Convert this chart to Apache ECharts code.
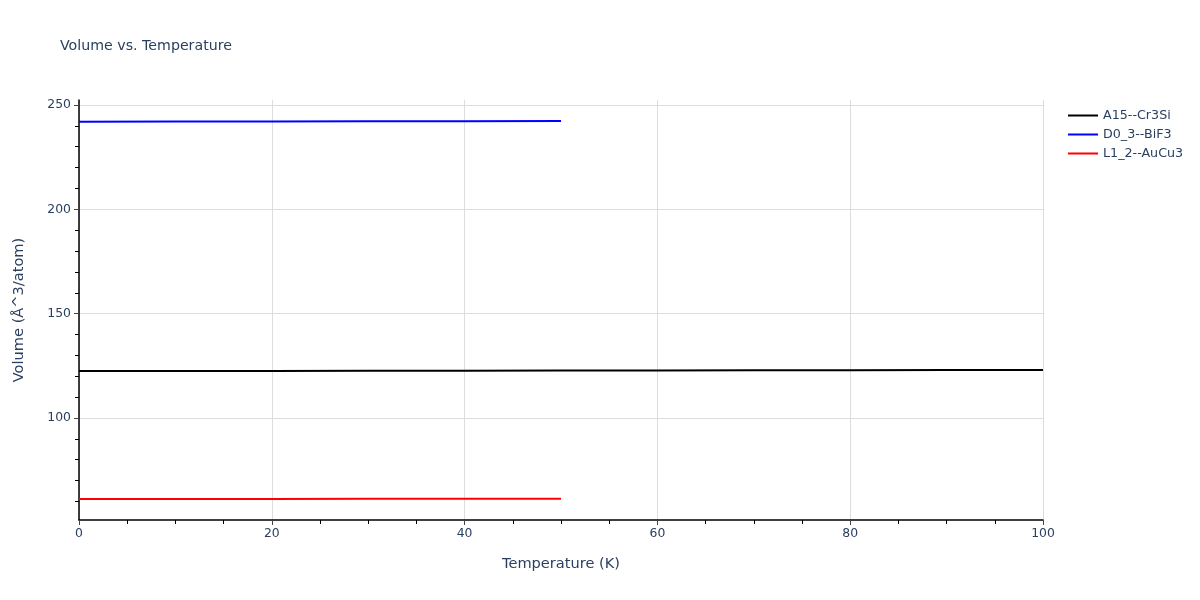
<!DOCTYPE html>
<html><head><meta charset="utf-8">
<script src="https://cdn.jsdelivr.net/npm/echarts@6/dist/echarts.min.js"></script>
<style>html,body{margin:0;padding:0;background:#fff}#c{width:1200px;height:600px}</style>
</head><body><div id="c"></div>
<script>
const seriesNames = ['A15--Cr3Si', 'D0_3--BiF3', 'L1_2--AuCu3'];
const colors = ['#000000', '#0000ff', '#ff0000'];
const tempA15 = [0, 10, 20, 30, 40, 50, 60, 70, 80, 90, 100];
const volA15 = [122.5, 122.52, 122.56, 122.6, 122.65, 122.7, 122.76, 122.82, 122.88, 122.94, 123.0];
const tempD03 = [0, 10, 20, 30, 40, 50];
const volD03 = [242.0, 242.05, 242.1, 242.17, 242.24, 242.3];
const tempL12 = [0, 10, 20, 30, 40, 50];
const volL12 = [61.2, 61.21, 61.22, 61.24, 61.26, 61.28];
const yTicks = [100, 150, 200, 250];
const yMinorTicks = [60, 70, 80, 90, 110, 120, 130, 140, 160, 170, 180, 190, 210, 220, 230, 240];

const font = '"DejaVu Sans", Verdana, sans-serif';
const txt = '#2a3f5f';
const pairs = (xs, ys) => xs.map((x, i) => [x, ys[i]]);
const chart = echarts.init(document.getElementById('c'));
chart.setOption({
  animation: false,
  title: { text: 'Volume vs. Temperature', left: 55, top: 34,
    textStyle: { fontFamily: font, fontSize: 14.2, fontWeight: 'normal', color: txt } },
  legend: { orient: 'vertical', left: 1063, top: 104, itemWidth: 30, itemHeight: 2, itemGap: 6,
    icon: 'rect', textStyle: { fontFamily: font, fontSize: 12.7, color: txt },
    data: seriesNames },
  grid: { left: 79, right: 157, top: 100, bottom: 80, containLabel: false },
  xAxis: {
    type: 'value', min: 0, max: 100, interval: 20,
    name: 'Temperature (K)', nameLocation: 'middle', nameGap: 37,
    nameTextStyle: { fontFamily: font, fontSize: 14.6, color: txt },
    axisLine: { show: true, onZero: false, lineStyle: { color: '#000', width: 1.5 } },
    axisTick: { show: true, length: 5, lineStyle: { color: '#444' } },
    minorTick: { show: true, splitNumber: 4, length: 4, lineStyle: { color: '#000' } },
    axisLabel: { fontFamily: font, fontSize: 12.4, color: txt, margin: 8 },
    splitLine: { show: true, lineStyle: { color: '#dddddd' } }
  },
  yAxis: [{
    type: 'value', min: 51.1, max: 252.4,
    name: 'Volume (Å^3/atom)', nameLocation: 'middle', nameGap: 52,
    nameTextStyle: { fontFamily: font, fontSize: 14.6, color: txt },
    axisLine: { show: true, onZero: false, lineStyle: { color: '#000', width: 1.5 } },
    axisTick: { show: true, length: 5, customValues: yTicks, lineStyle: { color: '#444' } },
    axisLabel: { fontFamily: font, fontSize: 12.4, color: txt, margin: 8, customValues: yTicks },
    splitLine: { show: true, lineStyle: { color: '#dddddd' } }
  }, {
    type: 'value', min: 51.1, max: 252.4, position: 'left',
    axisLine: { show: false },
    axisTick: { show: true, length: 4, customValues: yMinorTicks, lineStyle: { color: '#000' } },
    axisLabel: { show: false, customValues: yMinorTicks },
    splitLine: { show: false }
  }],
  series: [
    { name: seriesNames[0], type: 'line', data: pairs(tempA15, volA15), showSymbol: false,
      lineStyle: { color: colors[0], width: 2 }, itemStyle: { color: colors[0] } },
    { name: seriesNames[1], type: 'line', data: pairs(tempD03, volD03), showSymbol: false,
      lineStyle: { color: colors[1], width: 2 }, itemStyle: { color: colors[1] } },
    { name: seriesNames[2], type: 'line', data: pairs(tempL12, volL12), showSymbol: false,
      lineStyle: { color: colors[2], width: 2 }, itemStyle: { color: colors[2] } }
  ]
});
</script></body></html>
